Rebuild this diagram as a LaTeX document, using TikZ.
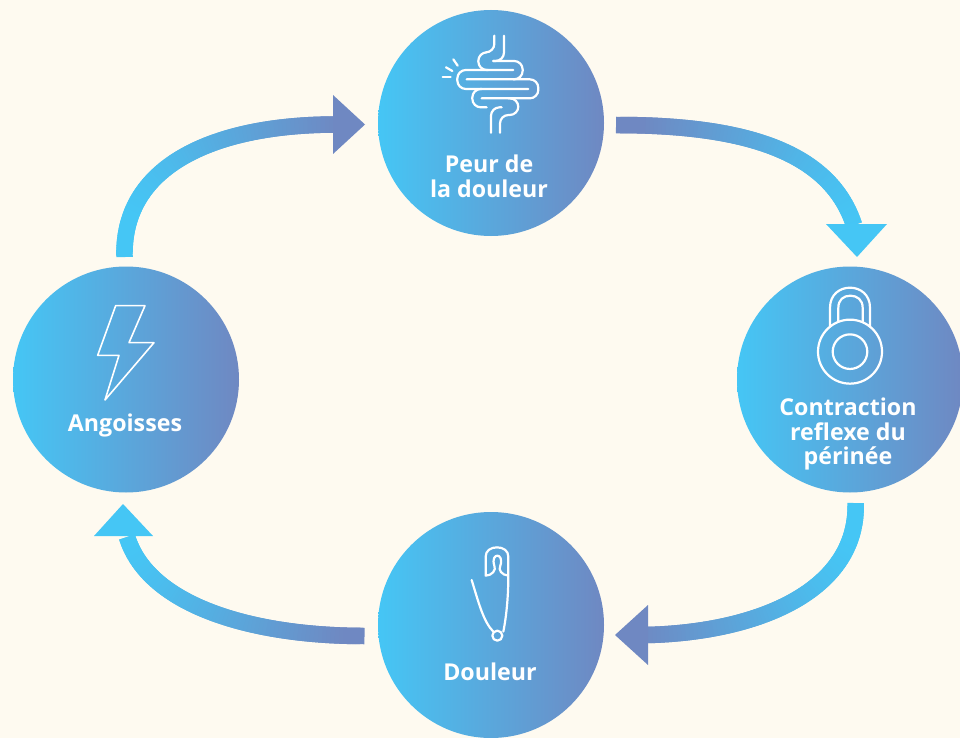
\documentclass[tikz,border=0pt]{standalone}
\usepackage{fontspec}
\setmainfont{Open Sans}
\definecolor{paper}{HTML}{FEFAF0}
\definecolor{skyblue}{HTML}{45C6F5}
\definecolor{deepblue}{HTML}{6F88C2}
\tikzset{
    stepcircle/.style={circle,minimum size=226pt,inner sep=0pt,left color=skyblue,right color=deepblue},
    steptext/.style={text=white,inner sep=0pt,align=center,font=\bfseries\fontsize{23.2}{24.5}\selectfont},
    iconline/.style={draw=white,line width=2.2pt,line cap=round,line join=round},
    thinicon/.style={draw=white,line width=1.6pt,line cap=round,line join=round}
}
\newdimen\curvex
% thick curve, coloured by its x position: start, control, control, end, x of deep colour, x of sky colour
\newcommand{\flowcurve}[6]{
    \path (#1) .. controls (#2) and (#3) .. (#4)
        \foreach \i in {0,...,80} {coordinate[pos=\i/80] (q\i)};
    \foreach \i in {0,...,79} {
        \pgfmathtruncatemacro{\nxt}{min(\i+2,80)}
        \pgfextractx{\curvex}{\pgfpointanchor{q\i}{center}}
        \pgfmathsetmacro{\skymix}{100*max(0,min(1,(\curvex/1pt-#5)/(#6-#5)))}
        \draw[line width=16.5pt,color=skyblue!\skymix!deepblue] (q\i) -- (q\nxt);
    }
}
\begin{document}
\begin{tikzpicture}[x=1pt,y=-1pt]
    \useasboundingbox (0,0) rectangle (960,738);
    \fill[paper] (0,0) rectangle (960,738);

    % Circles
    \node[stepcircle] (peur) at (491,123) {};
    \node[stepcircle] (contraction) at (850,379.5) {};
    \node[stepcircle] (douleur) at (491,625) {};
    \node[stepcircle] (angoisses) at (126,379.5) {};

    % Labels
    \node[steptext] (peurtext) at (489,176.5) {Peur de\\la douleur};
    \node[steptext] (contractiontext) at (848,434) {Contraction\\reflexe du\\périnée};
    \node[steptext] (douleurtext) at (490,671.5) {Douleur};
    \node[steptext] (angoissestext) at (125,425) {Angoisses};

    % Ends of the arrows
    \coordinate (angoissesout) at (124.5,257);
    \coordinate (angoissesa) at (122,165);
    \coordinate (angoissesb) at (215,125);
    \coordinate (peurin) at (334,124.5);
    \coordinate (peurout) at (616,125);
    \coordinate (peura) at (730,125);
    \coordinate (peurb) at (828,145);
    \coordinate (contractionin) at (854,225);
    \coordinate (contractionout) at (855.7,503);
    \coordinate (contractiona) at (858,590);
    \coordinate (contractionb) at (760,632);
    \coordinate (douleurin) at (648,635);
    \coordinate (douleurout) at (364.5,636);
    \coordinate (douleura) at (250,636);
    \coordinate (douleurb) at (148,605);
    \coordinate (angoissesin) at (127,537);

    % Arrows
    \flowcurve{angoissesout}{angoissesa}{angoissesb}{peurin}{335}{130}
    \fill[deepblue] (peurin) ++(-1,-29.5) -- ++(32,29.5) -- ++(-32,29.5) -- cycle;
    \flowcurve{peurout}{peura}{peurb}{contractionin}{640}{855}
    \fill[skyblue] (contractionin) ++(-28,-1) -- ++(61,0) -- ++(-30,33) -- cycle;
    \flowcurve{contractionout}{contractiona}{contractionb}{douleurin}{640}{850}
    \fill[deepblue] (douleurin) ++(0,-30) -- ++(-33,30) -- ++(33,30) -- cycle;
    \flowcurve{douleurout}{douleura}{douleurb}{angoissesin}{345}{130}
    \fill[skyblue] (angoissesin) ++(-33,-1) -- ++(59,0) -- ++(-30,-32) -- cycle;

    % Intestine
    \begin{scope}[shift={(420,20)},x=0.3333pt,y=-0.3333pt,iconline,rounded corners=8.5pt]
        \draw (223,47) -- (223,97) -- (175,97) -- (175,150) -- (205,150);
        \draw (252,47) -- (252,123) -- (220,123);
        \draw (220,123) -- (308,123) -- (308,178) -- (280,178);
        \draw (280,150) -- (112,150) -- (112,207) -- (325,207);
        \draw (140,178) -- (355,178) -- (355,235) -- (185,235);
        \draw (185,207) -- (157,207) -- (157,262) -- (200,262);
        \draw (245,262) -- (213,262) -- (213,338);
        \draw (265,235) -- (295,235) -- (295,285) -- (240,285) -- (240,338);
        \draw (68,172) -- (92,172);
        \draw (78,142) -- (97,153);
        \draw (100,118) -- (113,137);
    \end{scope}

    % Padlock
    \begin{scope}[shift={(790,275)},x=0.3333pt,y=-0.3333pt,iconline]
        \draw (180,230) circle (32pt);
        \draw (180,230) circle (17.3pt);
        \draw (120,155) -- (120,98) .. controls (120,58) and (150,38) .. (180,38) .. controls (210,38) and (240,58) .. (240,98) -- (240,155);
        \draw (145,140) -- (145,98) .. controls (145,75) and (160,62) .. (181,62) .. controls (202,62) and (218,75) .. (218,98) -- (218,140);
    \end{scope}

    % Safety pin
    \begin{scope}[shift={(440,535)},x=0.3333pt,y=-0.3333pt,iconline]
        \draw (190,290) .. controls (200,240) and (205,180) .. (205,122) -- (205,65) .. controls (205,47) and (190,37) .. (171,37) .. controls (152,37) and (137,47) .. (137,65) -- (137,122) .. controls (155,122) and (170,105) .. (163,92) .. controls (150,52) and (194,52) .. (181,92) .. controls (174,105) and (185,120) .. (205,122);
        \draw (95,135) .. controls (115,200) and (130,260) .. (160,290);
        \draw (172,302) circle (5pt);
    \end{scope}

    % Lightning bolt
    \begin{scope}[shift={(80,295)},x=0.3333pt,y=-0.3333pt,thinicon]
        \draw (107,32) -- (195,32) -- (147,143) -- (222,143) -- (75,315) -- (117,181) -- (53,181) -- cycle;
    \end{scope}
\end{tikzpicture}
\end{document}
